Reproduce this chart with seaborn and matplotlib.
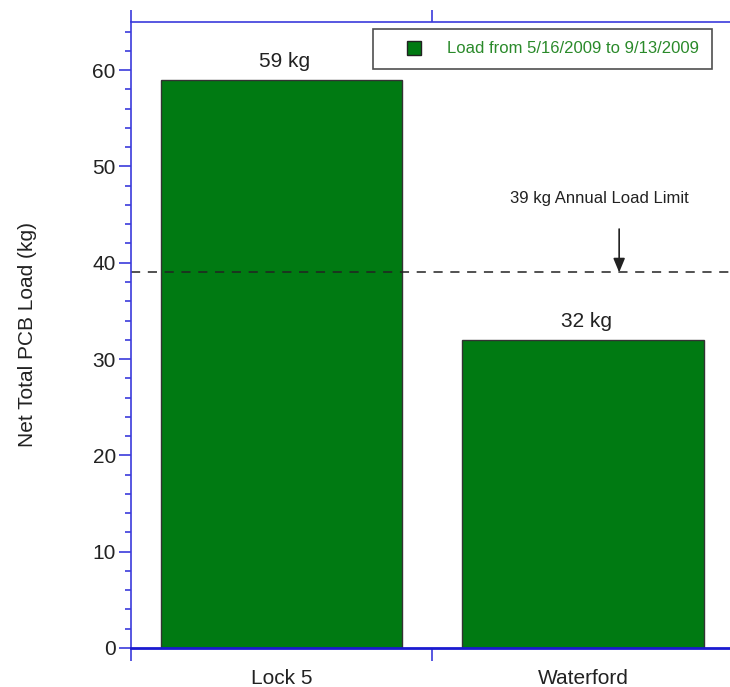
import matplotlib
matplotlib.use('Agg')
import matplotlib.pyplot as plt
import seaborn as sns
import pandas as pd
from matplotlib.lines import Line2D

# data
sites = ['Lock 5', 'Waterford']
loads = [59, 32]
bar_labels = ['59 kg', '32 kg']
limit = 39
limit_label = '39 kg Annual Load Limit'
legend_label = 'Load from 5/16/2009 to 9/13/2009'

sns.set_style('white')
plt.rcParams['font.family'] = ['Liberation Sans', 'DejaVu Sans']

df = pd.DataFrame({'site': sites, 'load': loads})

fig = plt.figure(figsize=(7.3, 6.87), dpi=100)
ax = fig.add_axes([0.1795, 0.0568, 0.8255, 0.9112])

bar_green = '#007a12'
blue = '#3b3bdc'
ink = '#222222'

sns.barplot(data=df, x='site', y='load', color=bar_green, width=0.8,
            edgecolor='#333333', linewidth=1.0, saturation=1, ax=ax)

ax.set_xlim(-0.5, 1.5)
ax.set_ylim(0, 65)
ax.set_xlabel('')
ax.set_ylabel('Net Total PCB Load (kg)', fontsize=15, labelpad=40, color=ink)

# spines
ax.spines['right'].set_visible(False)
ax.spines['left'].set_color(blue)
ax.spines['top'].set_color(blue)
ax.spines['bottom'].set_color('#1a1ad0')
ax.spines['left'].set_linewidth(1.2)
ax.spines['top'].set_linewidth(1.2)
ax.spines['bottom'].set_linewidth(2.0)

# y ticks
ax.set_yticks(range(0, 61, 10))
ax.set_yticks(range(0, 65, 2), minor=True)
ax.tick_params(axis='y', which='major', direction='out', length=9, width=1.2,
               color=blue, labelsize=15, labelcolor=ink, left=True, pad=2)
ax.tick_params(axis='y', which='minor', direction='out', length=4, width=1.2,
               color=blue, left=True)

# x ticks: labels at centres, tick marks at category boundaries
ax.set_xticks([0, 1])
ax.set_xticklabels(sites)
ax.set_xticks([-0.5, 0.5, 1.5], minor=True)
ax.tick_params(axis='x', which='major', length=0, labelsize=15,
               labelcolor=ink, pad=15)
ax.tick_params(axis='x', which='minor', direction='out', length=9, width=1.2,
               color=blue, bottom=True, top=True)

# limit line
ax.axhline(limit, color=ink, linestyle=(0, (6, 5)), linewidth=1.1, zorder=1)
ax.annotate('', xy=(1.12, limit), xytext=(1.12, 43.5),
            arrowprops=dict(arrowstyle='-|>,head_width=0.25,head_length=0.6',
                            color=ink, lw=1.2, mutation_scale=14,
                            shrinkA=0, shrinkB=0))
ax.text(1.056, 46.7, limit_label, ha='center', va='center', fontsize=12,
        color=ink)

# bar value labels
for i, (v, lab) in enumerate(zip(loads, bar_labels)):
    ax.text(i + 0.01, v + 1.9, lab, ha='center', va='center', fontsize=15,
            color=ink)

# legend
handle = Line2D([], [], linestyle='none', marker='s', markersize=10,
                markerfacecolor=bar_green, markeredgecolor=ink,
                markeredgewidth=1.0, label=legend_label)
leg = ax.legend(handles=[handle], loc='upper right', bbox_to_anchor=(0.964, 0.989),
                fontsize=12, frameon=True, fancybox=False, handlelength=3.4,
                borderpad=0.75, handletextpad=0.3, borderaxespad=0)
leg.get_frame().set_edgecolor(ink)
leg.get_frame().set_linewidth(1.2)
for t in leg.get_texts():
    t.set_color('#2a8a2a')

fig.savefig('out.png', dpi=100)
